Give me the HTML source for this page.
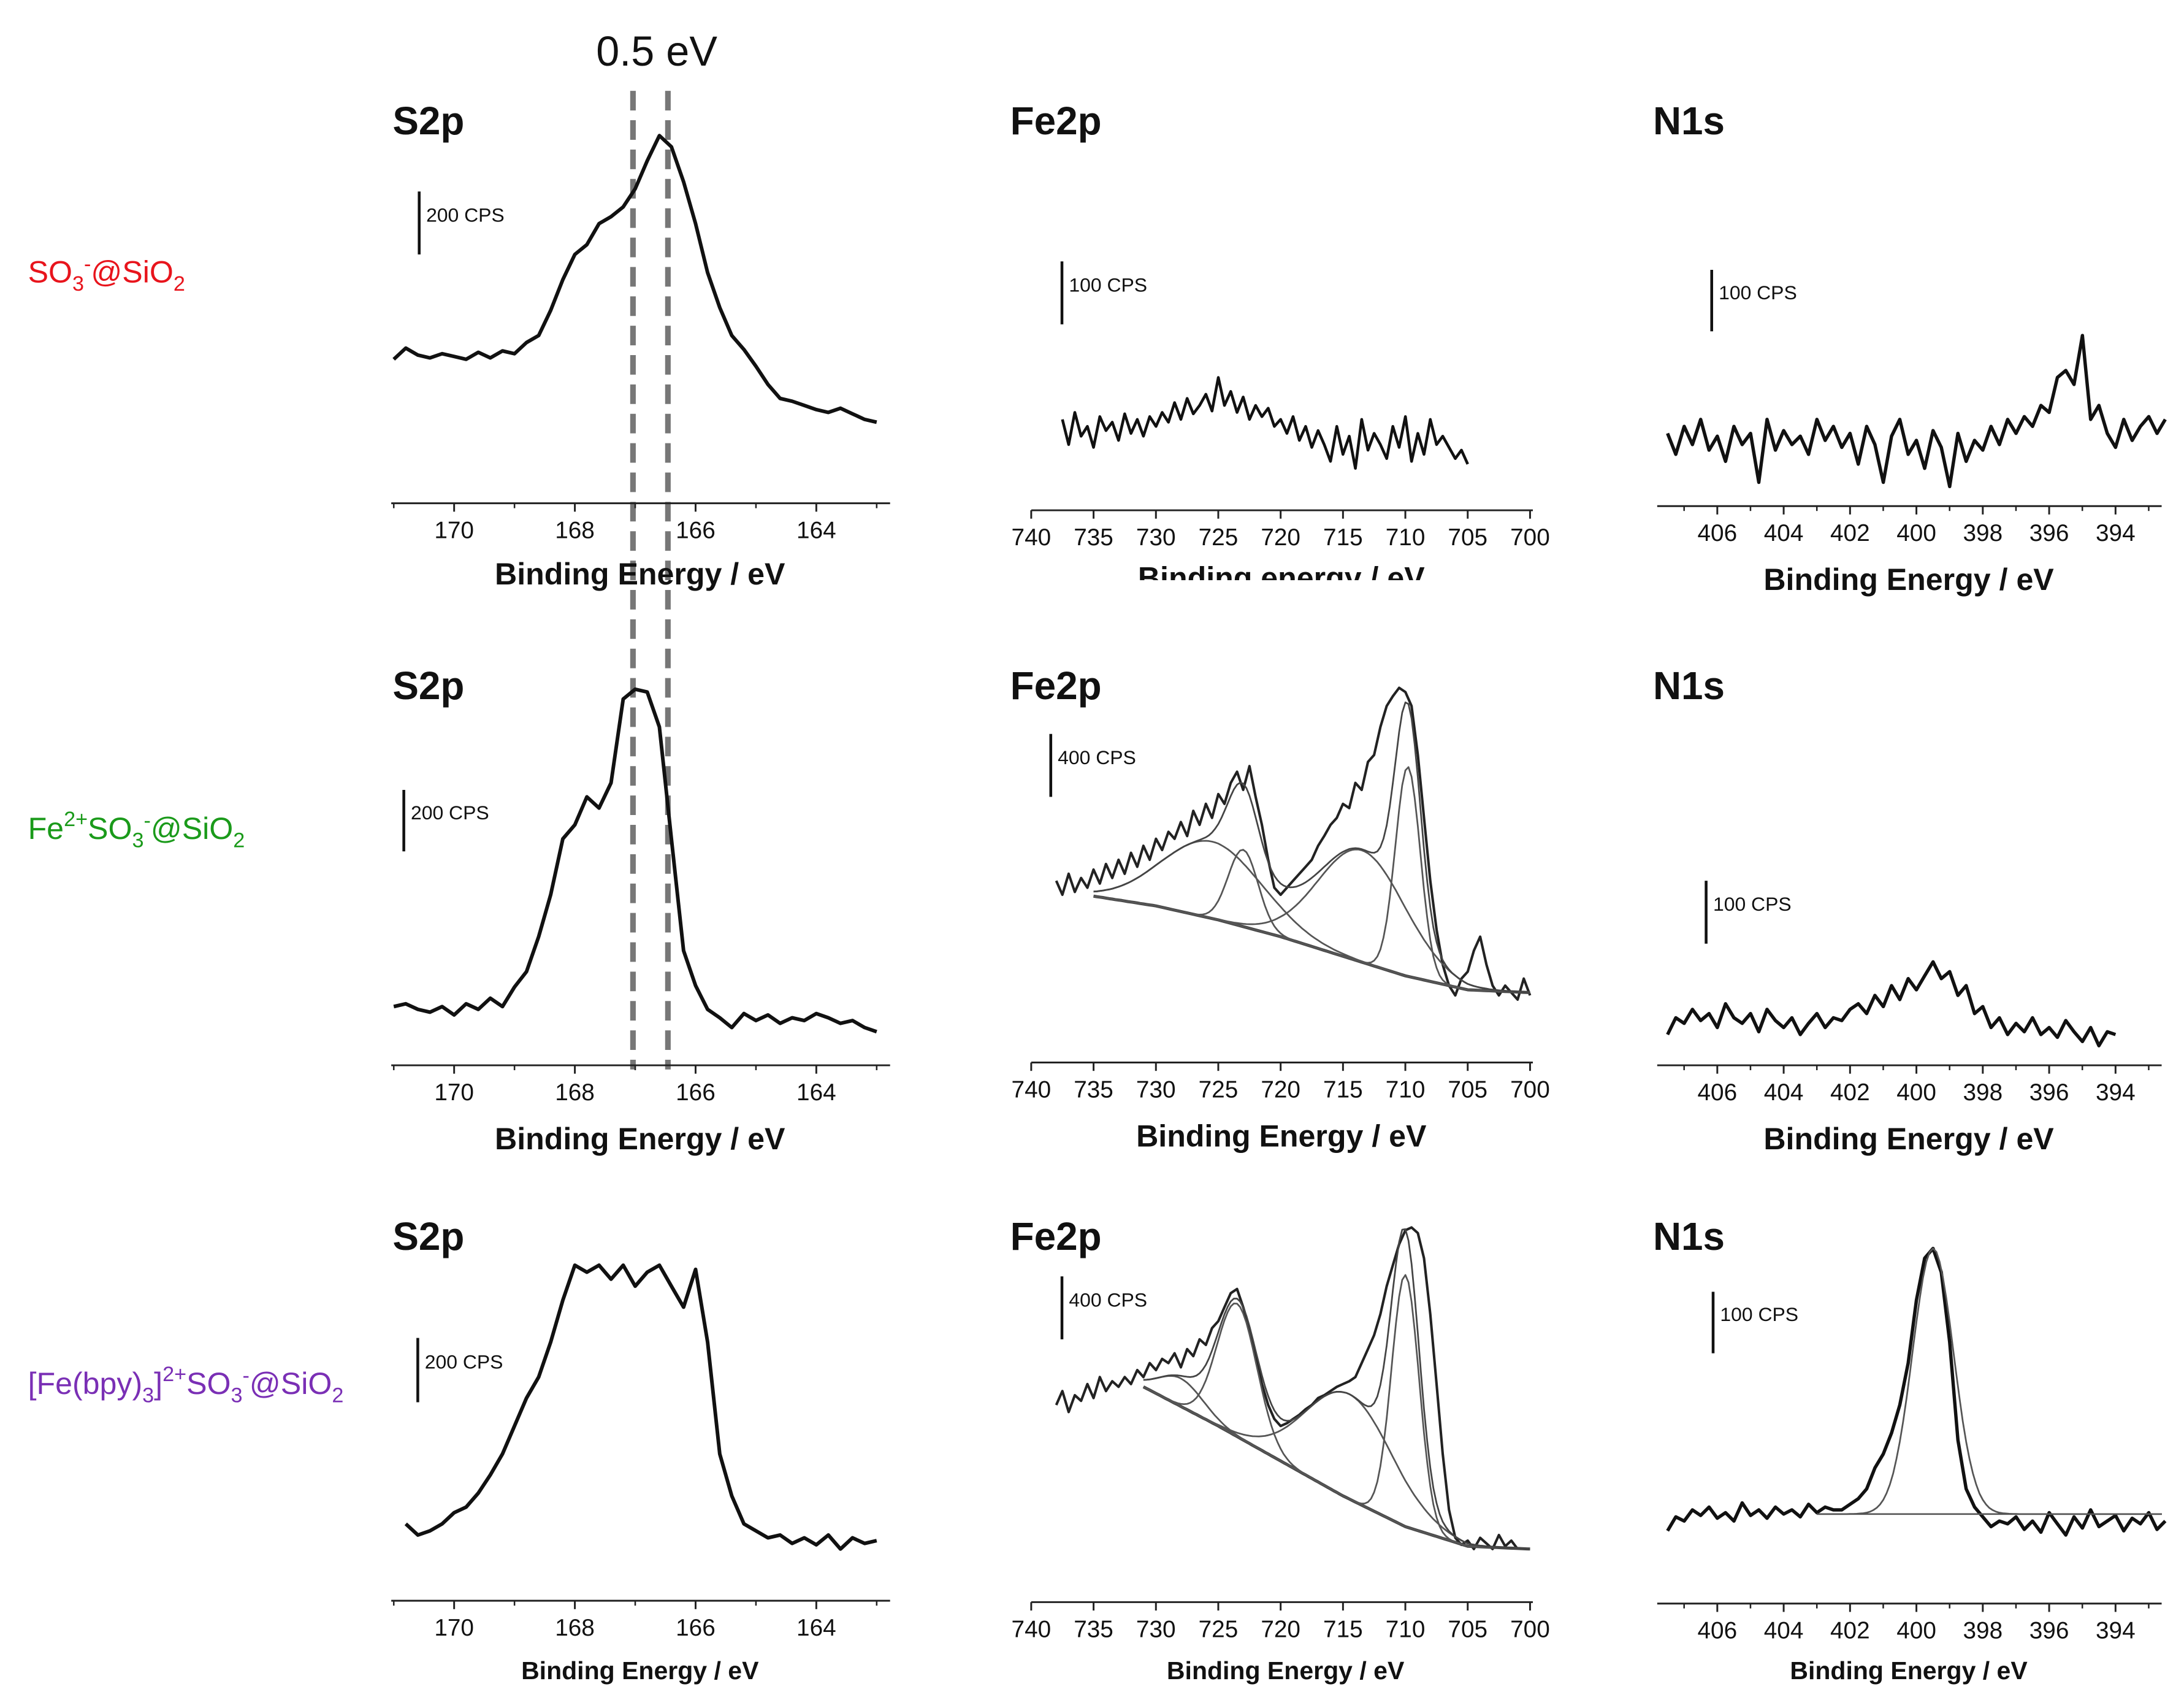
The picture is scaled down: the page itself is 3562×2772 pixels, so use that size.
<!DOCTYPE html>
<html><head><meta charset="utf-8">
<style>
html,body{margin:0;padding:0;background:#fff;}
svg{display:block;}
text{font-family:"Liberation Sans",Arial,sans-serif;}
</style></head>
<body>
<svg id="fig" width="3562" height="2772" viewBox="0 0 1563 1216" preserveAspectRatio="none" xmlns="http://www.w3.org/2000/svg">
<rect x="0" y="0" width="1563" height="1216" fill="#fff"/>
<text x="20" y="202" font-size="22" fill="#e8141c">SO<tspan font-size="15" dy="6">3</tspan><tspan font-size="15" dy="-14">-</tspan><tspan dy="8">@SiO</tspan><tspan font-size="15" dy="6">2</tspan></text>
<text x="20" y="600" font-size="22" fill="#1a9a1a">Fe<tspan font-size="15" dy="-9">2+</tspan><tspan dy="9">SO</tspan><tspan font-size="15" dy="6">3</tspan><tspan font-size="15" dy="-14">-</tspan><tspan dy="8">@SiO</tspan><tspan font-size="15" dy="6">2</tspan></text>
<text x="20" y="997" font-size="22" fill="#7a2fb5">[Fe(bpy)<tspan font-size="15" dy="6">3</tspan><tspan dy="-6">]</tspan><tspan font-size="15" dy="-9">2+</tspan><tspan dy="9">SO</tspan><tspan font-size="15" dy="6">3</tspan><tspan font-size="15" dy="-14">-</tspan><tspan dy="8">@SiO</tspan><tspan font-size="15" dy="6">2</tspan></text>
<text x="470" y="47" font-size="30" text-anchor="middle" fill="#111">0.5 eV</text>
<line x1="453" y1="65" x2="453" y2="765" stroke="#777" stroke-width="4" stroke-dasharray="14,7"/>
<line x1="478" y1="65" x2="478" y2="765" stroke="#777" stroke-width="4" stroke-dasharray="14,7"/>
<g id="panels"></g>
</svg>
<script>
// ---------- S2p data (heights in px above panel base) ----------
const s2pE1 = [171,170.8,170.6,170.4,170.2,170,169.8,169.6,169.4,169.2,169,168.8,168.6,168.4,168.2,168,167.8,167.6,167.4,167.2,167,166.8,166.6,166.4,166.2,166,165.8,165.6,165.4,165.2,165,164.8,164.6,164.4,164.2,164,163.8,163.6,163.4,163.2,163];
const s2pV1 = [53,61,56,54,57,55,53,58,54,59,57,65,70,88,110,128,135,150,155,162,175,195,213,205,180,150,115,90,70,60,48,35,25,23,20,17,15,18,14,10,8];
const s2pV2 = [42,44,40,38,42,36,44,40,48,42,56,67,92,122,162,172,192,184,202,262,269,267,242,162,82,57,40,34,27,37,32,36,30,34,32,37,34,30,32,27,24];
const s2pE3 = [170.8,170.6,170.4,170.2,170,169.8,169.6,169.4,169.2,169,168.8,168.6,168.4,168.2,168,167.8,167.6,167.4,167.2,167,166.8,166.6,166.4,166.2,166,165.8,165.6,165.4,165.2,165,164.8,164.6,164.4,164.2,164,163.8,163.6,163.4,163.2,163];
const s2pY3 = [1090,1098,1095,1090,1082,1078,1068,1055,1040,1020,1000,985,960,930,905,910,905,915,905,920,910,905,920,935,908,960,1040,1070,1090,1095,1100,1098,1104,1100,1105,1098,1108,1100,1104,1102];
// ---------- Fe2p data ----------
const fe1Y = [300,318,295,312,305,320,298,308,302,315,296,310,300,312,298,305,
 295,302,288,300,285,296,290,282,294,270,290,280,295,284,300,290,298,292,305,300,
 310,298,315,305,320,308,318,330,305,325,312,335,300,322,310,318,328,305,320,298,330,310,325,300,318,312,320,328,322,332];
const fe2Y = [630,640,625,638,628,635,622,632,618,628,615,625,610,620,605,615,600,
 608,595,600,588,598,580,590,575,585,568,575,560,552,565,548,570,590,615,635,640,
 635,630,625,620,615,605,598,590,585,575,578,560,565,545,540,520,505,498,492,495,
 505,540,585,630,665,690,705,712,700,695,680,670,690,705,712,705,710,715,700,712];
const fe2BgE = [738,735,730,725,720,715,710,705,700];
const fe2BgY = [638,641,648,658,670,684,698,708,710];
const fe2PkC = [725.5,723,713.5,709.8];
const fe2PkS = [4,1.2,3.5,1.0];
const fe2PkH = [55,55,80,150];
const fe3Y = [1005,995,1010,998,1002,990,1000,985,995,988,992,985,990,980,985,975,980,
 972,975,968,978,965,970,958,962,950,945,935,925,922,935,950,970,990,1005,1015,1020,1018,1015,
 1012,1008,1005,1000,998,995,992,990,988,985,975,965,955,940,920,905,890,880,878,882,
 900,940,990,1040,1080,1100,1105,1102,1108,1100,1104,1108,1098,1106,1102,1108];
const fe3BgE = [731,725,720,715,710,705,700];
const fe3BgY = [992,1020,1045,1070,1092,1106,1108];
const fe3PkC = [728,723.5,714.5,710];
const fe3PkS = [1.8,1.6,3.5,1.1];
const fe3PkH = [20,95,75,180];
// ---------- N1s data ----------
const n1Y = [310,325,305,318,300,322,312,330,305,318,310,345,300,322,308,318,312,325,300,315,305,
 320,310,332,305,318,345,312,300,325,315,335,308,320,348,310,330,315,322,305,318,300,
 310,298,305,290,295,270,265,275,240,300,290,310,320,300,315,305,298,310,300];
const n2Y = [740,728,732,722,730,725,735,718,728,732,725,738,722,730,735,728,740,732,725,735,728,
 730,722,718,725,712,720,705,715,700,708,698,688,700,695,712,705,725,720,735,728,740,
 732,738,728,740,735,742,730,738,745,735,748,738,740];
const n3Y = [1095,1085,1088,1080,1084,1078,1086,1082,1088,1075,1084,1080,1086,1078,1083,1080,1085,1076,1082,1078,1080,
 1080,1076,1072,1065,1050,1040,1025,1005,975,930,900,893,910,960,1030,1065,1078,1085,1092,1088,1090,
 1085,1094,1088,1096,1082,1090,1098,1085,1093,1080,1092,1088,1084,1095,1086,1090,1082,1094,1088];
const n3PkC = 399.5, n3PkS = 0.62, n3PkH = 190, n3Base = 1083;

const NS = 'http://www.w3.org/2000/svg';
const G = document.getElementById('panels');
function mk(tag, attrs, parent){const e=document.createElementNS(NS,tag);for(const k in attrs)e.setAttribute(k,attrs[k]);(parent||G).appendChild(e);return e;}
function xS2p(E){return 325+(170-E)*43.2;}
function xFe(E){return 738+(740-E)*8.925;}
function xN(E){return 1229+(406-E)*23.75;}
function pathFrom(xs,ys){return xs.map((x,i)=>(i?'L':'M')+x.toFixed(1)+','+ys[i].toFixed(1)).join(' ');}
function grid(start,step,n){const a=[];for(let i=0;i<n;i++)a.push(+(start-step*i).toFixed(3));return a;}
function interp(E,es,ys){for(let i=0;i<es.length-1;i++){if(E<=es[i]&&E>=es[i+1]){const t=(es[i]-E)/(es[i]-es[i+1]);return ys[i]+t*(ys[i+1]-ys[i]);}}return E>es[0]?ys[0]:ys[ys.length-1];}
function gauss(E,c,s,h){return h*Math.exp(-(E-c)*(E-c)/(2*s*s));}

function axis(name,x0,x1,y,ticks,xf,fs,minor){
  const g=mk('g',{});
  
  
  mk('line',{x1:x0,y1:y,x2:x1,y2:y,stroke:'#222','stroke-width':1.3},g);
  ticks.forEach(t=>{const x=xf(t);mk('line',{x1:x,y1:y,x2:x,y2:y+6,stroke:'#222','stroke-width':1.3},g);
    const tx=mk('text',{x:x,y:y+25,'font-size':fs,'text-anchor':'middle',fill:'#111'},g);tx.textContent=t;});
  minor.forEach(t=>{const x=xf(t);mk('line',{x1:x,y1:y,x2:x,y2:y+3.5,stroke:'#222','stroke-width':1.1},g);});
}
function label(name,x,y,txt,fs,weight,anchor){const t=mk('text',{x:x,y:y,'font-size':fs,'font-weight':weight||'normal','text-anchor':anchor||'start',fill:'#111'});
  
  
  t.textContent=txt;return t;}
function scalebar(name,x,y0,y1,txt,fs){const l=mk('line',{x1:x,y1:y0,x2:x,y2:y1,stroke:'#111','stroke-width':2});
  
  
  label(name+'-label',x+5,(y0+y1)/2-1,txt,fs||14);}
function series(name,xs,ys,color,w){const p=mk('path',{d:pathFrom(xs,ys),fill:'none',stroke:color,'stroke-width':w,'stroke-linejoin':'round'});
  
  
  return p;}

// ===== S2p panels =====
const s2pTicks=[170,168,166,164], s2pMinor=[171,169,167,165,163];
const s2pAxY=[360,762,1145], s2pBase=[310,762,1145];
[0,1,2].forEach(r=>{
  axis('s2p-x-axis-'+(r+1),280,637,s2pAxY[r],s2pTicks,xS2p,17,s2pMinor);
  label('s2p-title-'+(r+1),281,[96,500,894][r],'S2p',28,'bold');
  label('s2p-x-axis-title-'+(r+1),458,[418,822,1201][r],'Binding Energy / eV',r==2?18:22,'bold','middle');
});
scalebar('s2p-scale-bar-1',300,137,182,'200 CPS');
scalebar('s2p-scale-bar-2',289,565,609,'200 CPS');
scalebar('s2p-scale-bar-3',299,957,1003,'200 CPS');
series('s2p-spectrum-1',s2pE1.map(xS2p),s2pV1.map(v=>s2pBase[0]-v),'#111',2.6);
series('s2p-spectrum-2',s2pE1.map(xS2p),s2pV2.map(v=>s2pBase[1]-v),'#111',2.6);
series('s2p-spectrum-3',s2pE3.map(xS2p),s2pY3,'#111',2.6);

// ===== Fe2p panels =====
const feTicks=[740,735,730,725,720,715,710,705,700];
const feAxY=[365,760,1146];
[0,1,2].forEach(r=>{
  axis('fe2p-x-axis-'+(r+1),738,1097,feAxY[r],feTicks,xFe,17,[]);
  label('fe2p-title-'+(r+1),723,[96,500,894][r],'Fe2p',28,'bold');
});
label('fe2p-x-axis-title-1',917,421,'Binding energy / eV',22,'bold','middle');
mk('rect',{x:800,y:415,width:240,height:20,fill:'#fff'});
label('fe2p-x-axis-title-2',917,820,'Binding Energy / eV',22,'bold','middle');
label('fe2p-x-axis-title-3',920,1201,'Binding Energy / eV',18,'bold','middle');
scalebar('fe2p-scale-bar-1',760,187,232,'100 CPS');
scalebar('fe2p-scale-bar-2',752,525,570,'400 CPS');
scalebar('fe2p-scale-bar-3',760,913,958,'400 CPS');
const fe1E=grid(737.5,0.5,fe1Y.length);
series('fe2p-spectrum-1',fe1E.map(xFe),fe1Y,'#111',2);
function fitPanel(tag,E,Y,bgE,bgY,pc,ps,ph,eFrom,eTo){
  series(tag+'-spectrum',E.map(xFe),Y,'#222',1.8);
  const fe=[];for(let e=eFrom;e>=eTo-1e-6;e-=0.25)fe.push(+e.toFixed(2));
  const bg=fe.map(e=>interp(e,bgE,bgY));
  series(tag+'-background',fe.map(xFe),bg,'#444',2.2);
  pc.forEach((c,k)=>{series(tag+'-component-'+(k+1),fe.map(xFe),fe.map((e,i)=>bg[i]-gauss(e,c,ps[k],ph[k])),'#555',1.2);});
  series(tag+'-envelope',fe.map(xFe),fe.map((e,i)=>bg[i]-pc.reduce((s,c,k)=>s+gauss(e,c,ps[k],ph[k]),0)),'#444',1.2);
}
fitPanel('fe2p-2',grid(738,0.5,fe2Y.length),fe2Y,fe2BgE,fe2BgY,fe2PkC,fe2PkS,fe2PkH,735,700);
fitPanel('fe2p-3',grid(738,0.5,fe3Y.length),fe3Y,fe3BgE,fe3BgY,fe3PkC,fe3PkS,fe3PkH,731,700);

// ===== N1s panels =====
const nTicks=[406,404,402,400,398,396,394], nMinor=[407,405,403,401,399,397,395,393];
const nAxY=[362,762,1147];
[0,1,2].forEach(r=>{
  axis('n1s-x-axis-'+(r+1),1186,1547,nAxY[r],nTicks,xN,17,nMinor);
  label('n1s-title-'+(r+1),1183,[96,500,894][r],'N1s',28,'bold');
  label('n1s-x-axis-title-'+(r+1),1366,[422,822,1201][r],'Binding Energy / eV',r==2?18:22,'bold','middle');
});
scalebar('n1s-scale-bar-1',1225,193,237,'100 CPS');
scalebar('n1s-scale-bar-2',1221,630,675,'100 CPS');
scalebar('n1s-scale-bar-3',1226,924,968,'100 CPS');
series('n1s-spectrum-1',grid(407.5,0.25,n1Y.length).map(xN),n1Y,'#111',2.4);
series('n1s-spectrum-2',grid(407.5,0.25,n2Y.length).map(xN),n2Y,'#111',2.4);
series('n1s-spectrum-3',grid(407.5,0.25,n3Y.length).map(xN),n3Y,'#111',2.4);
const nfE=[];for(let e=403;e>=392.5;e-=0.1)nfE.push(+e.toFixed(2));
series('n1s-fit-baseline-3',nfE.map(xN),nfE.map(()=>n3Base),'#555',1.2);
series('n1s-fit-peak-3',nfE.map(xN),nfE.map(e=>n3Base-gauss(e,n3PkC,n3PkS,n3PkH)),'#555',1.2);
</script>
</body></html>
